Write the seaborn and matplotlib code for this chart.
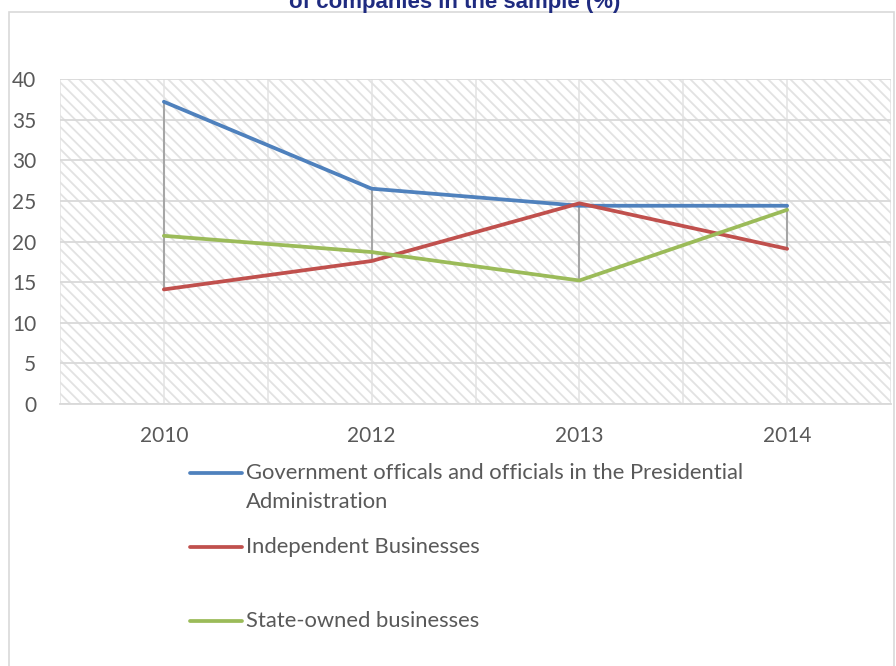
import matplotlib
matplotlib.use('Agg')
import matplotlib.pyplot as plt
import seaborn as sns
import pandas as pd
from matplotlib.patches import Rectangle
from matplotlib.lines import Line2D

# ---- data ----
years = ['2010', '2012', '2013', '2014']
series_names = ['Government officals and officials in the Presidential Administration',
                'Independent Businesses',
                'State-owned businesses']
gov_values = [37.2, 26.5, 24.4, 24.4]
ind_values = [14.1, 17.6, 24.7, 19.1]
state_values = [20.7, 18.7, 15.2, 23.9]
colors = ['#4F81BD', '#C0504D', '#9BBB59']
yticks = [0, 5, 10, 15, 20, 25, 30, 35, 40]
title_text = 'of companies in the sample (%)'

rows = []
for name, vals in zip(series_names, [gov_values, ind_values, state_values]):
    for i, (yr, v) in enumerate(zip(years, vals)):
        rows.append({'pos': i, 'year': yr, 'value': v, 'series': name})
df = pd.DataFrame(rows)

sns.set_theme(style='white')
plt.rcParams['font.family'] = ['Lato', 'DejaVu Sans']
plt.rcParams['hatch.linewidth'] = 1.3

W, H = 896, 666
fig = plt.figure(figsize=(W / 100, H / 100), dpi=100)
fig.patch.set_facecolor('white')

# chart border
fig.patches.append(Rectangle((9 / W, -0.05), (894 - 9) / W, 1.05 - 12 / H,
                             transform=fig.transFigure, facecolor='none',
                             edgecolor='#D9D9D9', linewidth=1.2, zorder=0))

ax = fig.add_axes([60 / W, 1 - 404 / H, (891 - 60) / W, (404 - 79) / H])
ax.set_facecolor('white')

# hatched plot area
ax.add_patch(Rectangle((0, 0), 1, 1, transform=ax.transAxes, facecolor='white',
                       edgecolor='#E2E2E2', hatch='\\\\\\', linewidth=0, zorder=0))

# high-low lines
data_cols = [gov_values, ind_values, state_values]
lows = [min(c[i] for c in data_cols) for i in range(len(years))]
highs = [max(c[i] for c in data_cols) for i in range(len(years))]
ax.vlines(range(len(years)), lows, highs, color='#A6A6A6', linewidth=1.5, zorder=2)

sns.lineplot(data=df, x='pos', y='value', hue='series', hue_order=series_names,
             palette=colors, sort=False, linewidth=2.7, legend=False, ax=ax,
             zorder=3, solid_capstyle='round')

ax.set_xlim(-0.5, len(years) - 0.5)
ax.set_ylim(0, 40)
ax.set_yticks(yticks)
ax.set_xticks(range(len(years)))
ax.set_xticklabels(years)
ax.set_xticks([i - 0.5 for i in range(len(years) + 1)], minor=True)
ax.set_xlabel('')
ax.set_ylabel('')
ax.grid(axis='y', which='major', color='#D9D9D9', linewidth=1.3)
ax.grid(axis='x', which='minor', color='#E3E3E3', linewidth=1.1)
ax.grid(axis='x', which='major', color='#E3E3E3', linewidth=1.1)
ax.set_axisbelow(True)
for s in ['left', 'right', 'top']:
    ax.spines[s].set_visible(False)
ax.spines['bottom'].set_color('#D9D9D9')
ax.spines['bottom'].set_linewidth(1.3)
ax.tick_params(axis='both', which='both', length=0, labelsize=15, labelcolor='#595959')
ax.tick_params(axis='y', pad=17)
ax.tick_params(axis='x', pad=16)

# title (clipped at top as in reference)
fig.text(455 / W, 1 - 8 / H, title_text, ha='center', va='baseline', fontsize=16,
         fontweight='bold', color='#1F2B80', family=['Liberation Sans', 'DejaVu Sans'])

# legend (manual)
legend_y = [473, 547, 621]
label_lines = [['Government officals and officials in the Presidential', 'Administration'],
               ['Independent Businesses'],
               ['State-owned businesses']]
for col, y, lines in zip(colors, legend_y, label_lines):
    fig.lines.append(Line2D([190 / W, 242 / W], [1 - y / H, 1 - y / H], transform=fig.transFigure,
                            color=col, linewidth=2.7, solid_capstyle='round'))
    for k, txt in enumerate(lines):
        fig.text(246 / W, 1 - (y + 29 * k) / H, txt, ha='left', va='center', fontsize=15.8,
                 color='#595959')

fig.savefig('out.png', dpi=100, facecolor='white')
